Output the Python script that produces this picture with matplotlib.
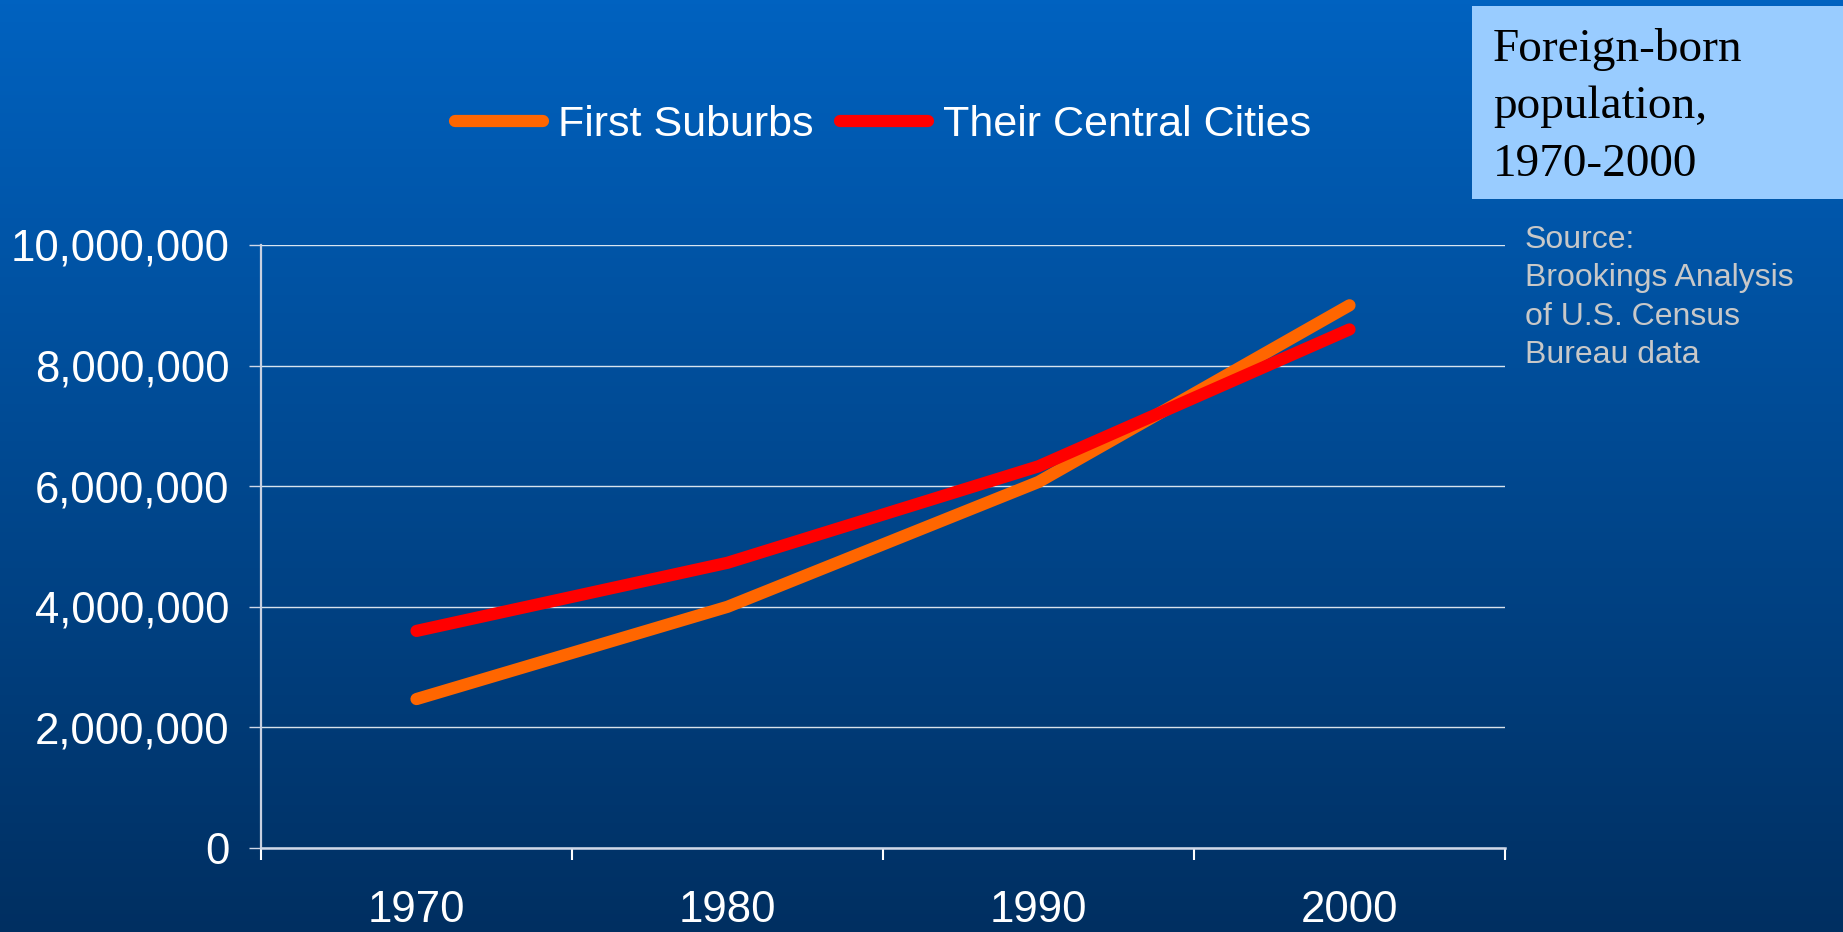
import numpy as np
import matplotlib
matplotlib.use("Agg")
import matplotlib.pyplot as plt
from matplotlib.lines import Line2D
from matplotlib.patches import Rectangle
from matplotlib.ticker import FuncFormatter

# data
years = ["1970", "1980", "1990", "2000"]
first_suburbs = [2470000, 4000000, 6070000, 9000000]
central_cities = [3600000, 4730000, 6330000, 8600000]
y_ticks = [0, 2000000, 4000000, 6000000, 8000000, 10000000]
source_lines = ["Source:", "Brookings Analysis", "of U.S. Census", "Bureau data"]
title_lines = ["Foreign-born", "population,", "1970-2000"]

plt.rcParams["font.family"] = ["Liberation Sans", "DejaVu Sans"]

W, H = 1843, 932
fig = plt.figure(figsize=(W / 100, H / 100), dpi=100)

# blue gradient background
bg = fig.add_axes([0, 0, 1, 1], zorder=-10)
top = np.array([0, 98, 192]) / 255
bottom = np.array([0, 47, 97]) / 255
t = np.linspace(0, 1, 256)[:, None]
grad = top * (1 - t) + bottom * t
bg.imshow(grad[:, None, :].repeat(2, axis=1), aspect="auto", extent=[0, 1, 0, 1])
bg.set_axis_off()

# main plot area (pixel box 261..1505 x 245..848)
ax = fig.add_axes([261 / W, (H - 848) / H, 1244 / W, 603 / H])
ax.set_facecolor("none")

x = np.arange(len(years))
ax.plot(x, first_suburbs, color="#FF6600", lw=8.8, solid_capstyle="round",
        solid_joinstyle="round", zorder=3)
ax.plot(x, central_cities, color="#FF0000", lw=8.8, solid_capstyle="round",
        solid_joinstyle="round", zorder=3)

ax.set_xlim(-0.5, len(years) - 0.5)
ax.set_ylim(0, 10000000)
ax.set_yticks(y_ticks)
ax.yaxis.set_major_formatter(FuncFormatter(lambda v, p: "{:,.0f}".format(v)))
ax.grid(axis="y", color="white", lw=1, alpha=0.85)

ax.set_xticks(x)
ax.set_xticklabels(years)
ax.set_xticks(np.arange(-0.5, len(years), 1), minor=True)
ax.tick_params(axis="x", which="major", length=0, pad=30, labelsize=31.5, labelcolor="white")
ax.tick_params(axis="x", which="minor", length=8.6, width=1.5, color="white")
ax.tick_params(axis="y", length=8.6, width=1, color="#d0d8e8", pad=14,
               labelsize=31.5, labelcolor="white")

for s in ["top", "right"]:
    ax.spines[s].set_visible(False)
ax.spines["left"].set_color("#c8d0e0")
ax.spines["left"].set_linewidth(1.6)
ax.spines["bottom"].set_color("#d0d8e8")
ax.spines["bottom"].set_linewidth(1.8)

# legend on top
handles = [
    Line2D([], [], color="#FF6600", lw=8.8, solid_capstyle="round"),
    Line2D([], [], color="#FF0000", lw=8.8, solid_capstyle="round"),
]
leg = fig.legend(handles, ["First Suburbs", "Their Central Cities"], loc="center",
                 bbox_to_anchor=(883 / W, 1 - 125 / H), ncol=2, frameon=False,
                 fontsize=31, handlelength=2.05, handletextpad=0.35,
                 columnspacing=0.6, borderpad=0)
for txt in leg.get_texts():
    txt.set_color("white")

# title box top right
fig.patches.append(Rectangle((1472 / W, (H - 199) / H), (W - 1472) / W, 193 / H,
                             transform=fig.transFigure, facecolor="#99CCFF",
                             edgecolor="none", zorder=1))
for i, line in enumerate(title_lines):
    fig.text(1493 / W, 1 - (61 + 57.5 * i) / H, line, family=["Liberation Serif", "DejaVu Serif"],
             fontsize=34, color="black", va="baseline", ha="left", zorder=2)

# source note
for i, line in enumerate(source_lines):
    fig.text(1525 / W, 1 - (248 + 38.3 * i) / H, line, fontsize=23, color="#c8c8c8",
             va="baseline", ha="left")

fig.savefig("out.png", dpi=100)
